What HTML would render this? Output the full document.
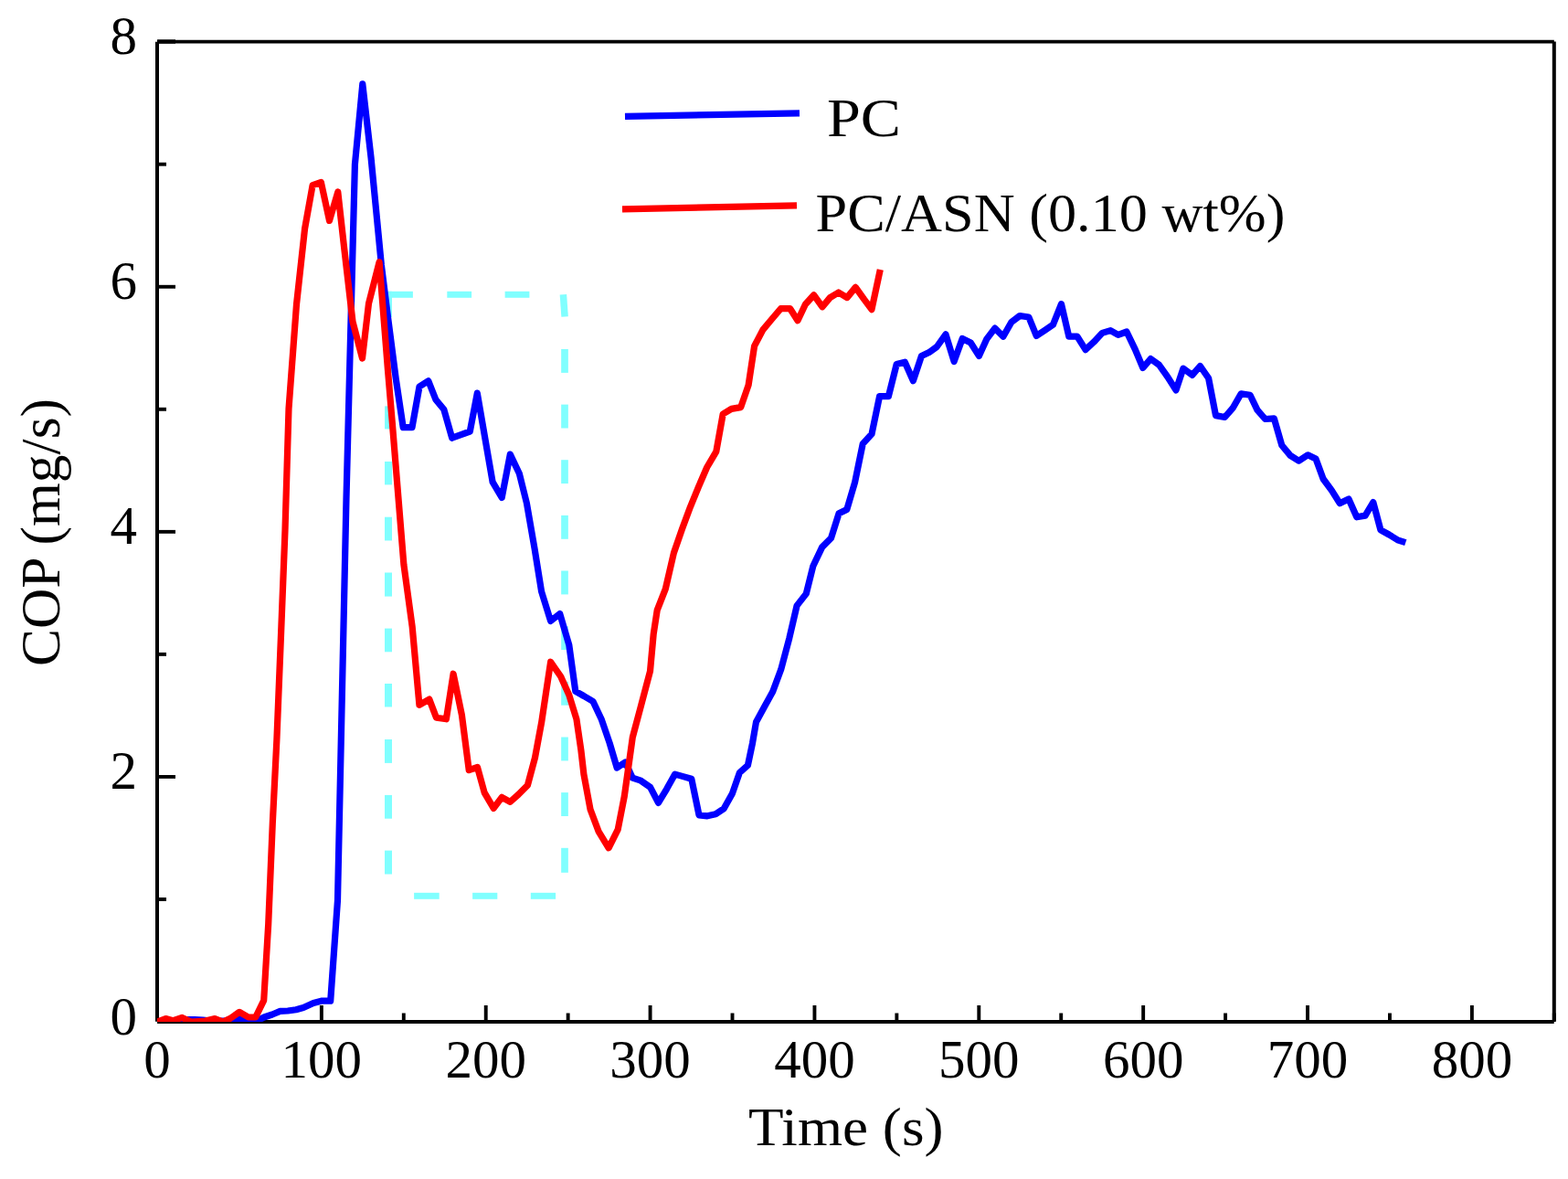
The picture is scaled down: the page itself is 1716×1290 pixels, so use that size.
<!DOCTYPE html>
<html><head><meta charset="utf-8"><title>COP vs Time</title>
<style>
html,body{margin:0;padding:0;background:#fff;}
body{width:1716px;height:1290px;overflow:hidden;}
svg{display:block;}
text{font-family:"Liberation Serif","DejaVu Serif",serif;fill:#000;}
</style></head><body>
<svg width="1716" height="1290" viewBox="0 0 1716 1290">
<defs><clipPath id="pc"><rect x="172" y="45.7" width="1528.8" height="1072.3"/></clipPath></defs>
<rect width="1716" height="1290" fill="#fff"/>
<g stroke="#000" stroke-width="3.9" fill="none">
<line x1="172" y1="45.8" x2="172" y2="1117.8" stroke-width="4"/>
<line x1="172.1" y1="1118" x2="1700.7" y2="1118" stroke-width="3.9"/>
<line x1="1700.8" y1="45.4" x2="1700.8" y2="1117" stroke-width="4"/>
<line x1="172.1" y1="45.7" x2="1700.8" y2="45.7" stroke-width="3.8"/>
<line x1="172.1" y1="45.5" x2="192" y2="45.5" stroke-width="4.4"/>
<line x1="261.93" y1="1118.0" x2="261.93" y2="1108.5"/><line x1="351.86" y1="1118.0" x2="351.86" y2="1100.0"/><line x1="441.79" y1="1118.0" x2="441.79" y2="1108.5"/><line x1="531.72" y1="1118.0" x2="531.72" y2="1100.0"/><line x1="621.65" y1="1118.0" x2="621.65" y2="1108.5"/><line x1="711.58" y1="1118.0" x2="711.58" y2="1100.0"/><line x1="801.51" y1="1118.0" x2="801.51" y2="1108.5"/><line x1="891.44" y1="1118.0" x2="891.44" y2="1100.0"/><line x1="981.37" y1="1118.0" x2="981.37" y2="1108.5"/><line x1="1071.30" y1="1118.0" x2="1071.30" y2="1100.0"/><line x1="1161.23" y1="1118.0" x2="1161.23" y2="1108.5"/><line x1="1251.16" y1="1118.0" x2="1251.16" y2="1100.0"/><line x1="1341.09" y1="1118.0" x2="1341.09" y2="1108.5"/><line x1="1431.02" y1="1118.0" x2="1431.02" y2="1100.0"/><line x1="1520.95" y1="1118.0" x2="1520.95" y2="1108.5"/><line x1="1610.88" y1="1118.0" x2="1610.88" y2="1100.0"/><line x1="1700.81" y1="1118.0" x2="1700.81" y2="1108.5"/><line x1="172.0" y1="983.96" x2="182.0" y2="983.96"/><line x1="172.0" y1="849.92" x2="192.0" y2="849.92"/><line x1="172.0" y1="715.88" x2="182.0" y2="715.88"/><line x1="172.0" y1="581.84" x2="192.0" y2="581.84"/><line x1="172.0" y1="447.80" x2="182.0" y2="447.80"/><line x1="172.0" y1="313.76" x2="192.0" y2="313.76"/><line x1="172.0" y1="179.72" x2="182.0" y2="179.72"/>
</g>
<g fill="none" stroke="#80ffff" stroke-linecap="butt">
<line x1="425.2" y1="322.3" x2="451.9" y2="322.3" stroke-width="7"/><line x1="489.3" y1="322.3" x2="516.1" y2="322.3" stroke-width="7"/><line x1="552.6" y1="322.3" x2="579.4" y2="322.3" stroke-width="7"/><line x1="616.4" y1="322.3" x2="618.1" y2="346.4" stroke-width="7.5"/><line x1="618" y1="382" x2="618" y2="407.9" stroke-width="7.7"/><line x1="618" y1="442.6" x2="618" y2="468.5" stroke-width="7.7"/><line x1="618" y1="503.2" x2="618" y2="529.1" stroke-width="7.7"/><line x1="618" y1="563.9" x2="618" y2="589.8" stroke-width="7.7"/><line x1="618" y1="624.5" x2="618" y2="650.4" stroke-width="7.7"/><line x1="618" y1="685.2" x2="618" y2="711.1" stroke-width="7.7"/><line x1="618" y1="745.8" x2="618" y2="771.7" stroke-width="7.7"/><line x1="618" y1="806.5" x2="618" y2="832.4" stroke-width="7.7"/><line x1="618" y1="867.1" x2="618" y2="893" stroke-width="7.7"/><line x1="618" y1="927.8" x2="618" y2="954.8" stroke-width="7.7"/><line x1="425" y1="318.8" x2="425" y2="347" stroke-width="8"/><line x1="425" y1="383" x2="425" y2="408" stroke-width="8"/><line x1="425" y1="444.4" x2="425" y2="469.4" stroke-width="8"/><line x1="425" y1="505" x2="425" y2="530.4" stroke-width="8"/><line x1="425" y1="565.7" x2="425" y2="591.5" stroke-width="8"/><line x1="425" y1="626.5" x2="425" y2="652.6" stroke-width="8"/><line x1="425" y1="687.6" x2="425" y2="713.3" stroke-width="8"/><line x1="425" y1="748" x2="425" y2="773.5" stroke-width="8"/><line x1="425" y1="809" x2="425" y2="834.9" stroke-width="8"/><line x1="425" y1="869.9" x2="425" y2="895.7" stroke-width="8"/><line x1="425" y1="930.6" x2="425" y2="956.5" stroke-width="8"/><line x1="453.1" y1="980.3" x2="480.7" y2="980.3" stroke-width="7"/><line x1="517.1" y1="980.3" x2="544.3" y2="980.3" stroke-width="7"/><line x1="580.8" y1="980.3" x2="608.1" y2="980.3" stroke-width="7"/>
</g>
<g clip-path="url(#pc)" fill="none" stroke-width="7.2" stroke-linejoin="round" stroke-linecap="butt">
<polyline stroke="#0000ff" points="172,1118.2 181,1117 190,1117 199,1116 204,1115.5 213,1115.5 222,1116 231,1117 244,1117 252,1117 262,1114.5 271,1117.5 280,1117.5 289,1113 298,1110 306.6,1106.4 315,1106 324,1104.7 332,1102.5 343,1097.4 351.6,1095.2 361.7,1095.2 369.5,985 379,545 388.4,180 396.8,91.8 406,172 411.6,229.8 417.4,290.2 424.4,346 433.2,414 441.2,467.6 451,467.6 459,423 468.8,416.8 476.9,437.3 485.8,448 494.7,479.2 504.5,475.6 514.3,472 522.3,430.1 539.1,527.4 549.2,544.5 558.3,497.1 568.4,518.3 576.4,550.5 585,600 592.6,647.3 602.6,679.5 612.7,671.5 622.8,705.7 629.8,756.4 638.9,761.5 649,767.5 658.1,786.7 667.1,812.9 675.2,840.1 684.3,834 692.3,851.2 701.4,854.2 711.5,861.2 720.5,878.4 729.6,863.3 738.7,847.1 747.7,849.6 756.8,852.2 765,891.8 774.1,892.8 783.2,890.8 792.2,884.7 801.3,868.6 809.4,845.4 818.4,837.4 823.5,813.2 827.5,790 836.6,773.3 845.7,756.7 854.7,732.6 863.8,698.3 872.1,662.6 882.3,649.6 889.9,619.2 899.7,598.6 909.5,588.8 918.1,561.7 926.8,557.4 935.5,528.1 944.2,485.7 954,474.9 962.6,433.6 972.4,433.6 981.2,398.5 990.3,396.2 999.4,416.7 1008.5,389.4 1016.8,385.6 1025.2,379.5 1035,365.9 1044.1,395.5 1053.2,370.5 1062.3,375 1071.4,389.4 1079.7,371.2 1088.8,359.1 1097.9,368.2 1107,352.3 1116.1,345.5 1125.9,347 1134.2,367.4 1143.3,361.4 1152.4,355.3 1161.5,332.6 1169.8,368.2 1178.9,368.2 1188,382.6 1197.1,374.2 1206.2,364.4 1215.3,361.6 1223.7,366.3 1233,363 1242.2,382.1 1250.8,402.5 1259.3,392.6 1268.5,399.2 1277.8,412.4 1287,426.9 1294.9,403.2 1304.8,410.4 1313.4,400.5 1322.6,413.7 1330.5,454.6 1340.4,456.5 1349,446.7 1358.2,430.8 1368.1,432.2 1376,448.6 1384.6,458.5 1394.4,457.9 1402.8,487.3 1412.1,498.4 1421.4,504.2 1431.3,497.8 1440,501.9 1448.1,524 1457.4,536.7 1466.2,550.7 1476,546 1484.8,565.8 1494.1,564.1 1502.8,549.5 1510.9,579.8 1520.2,585 1529.5,590.8 1538.3,593.7"/>
<polyline stroke="#ff0000" points="172,1118.2 181.3,1114.6 189.5,1116.7 199.3,1113.4 209,1118 217.2,1117.5 224.6,1117 235.2,1114.6 244.1,1118 251.5,1114.6 262.1,1107.3 271.9,1113 279.7,1113 288.7,1094.6 293.7,1011 298.3,901 302.9,809 307.5,695 312,580 316,447 324.5,333 333.6,250 342.1,202.6 351.4,199.5 360.5,241.4 369.8,210 376.7,271.6 386,352 396.5,392 403.5,332.1 415.1,286.7 419.8,346 424.4,404.2 429.1,460 441.9,617.8 451.2,686 458.9,771.3 469.8,765.1 477.5,785.3 488.4,786.8 496.1,737.2 505.4,782.2 513.2,842.6 522.5,839.5 530.2,867.4 540.2,884.4 549.2,872.3 558.3,877.4 567.4,869.3 577.4,859.2 585.5,829 592.6,790.7 602.6,724.2 613.7,740.3 622.8,760.5 630.9,786.7 635.9,821 638.9,847.1 646,885.4 655,909.6 666.1,927.8 676.2,907.6 683.3,871.3 692.3,806.8 701.4,772.6 711.5,734.3 715.2,693.8 719.2,667.6 728.3,644.4 737.4,605 746.5,578.8 755.5,554.6 764.6,532.4 773.7,511.3 783.8,494.1 791.2,453 800.5,447.4 810.7,445.6 819.1,421.4 825.6,378.6 834.9,360.9 844.2,349.8 854.4,337.7 864.7,337.7 873,350.7 881.4,333 890.7,322.8 900,335.8 908.4,325.6 917.7,320 927,325.6 936.3,314.4 945.6,327.4 954,338.6 963.3,294.9"/>
</g>
<g font-size="59">
<text x="172.00" y="1178.6" text-anchor="middle">0</text><text x="351.86" y="1178.6" text-anchor="middle">100</text><text x="531.72" y="1178.6" text-anchor="middle">200</text><text x="711.58" y="1178.6" text-anchor="middle">300</text><text x="891.44" y="1178.6" text-anchor="middle">400</text><text x="1071.30" y="1178.6" text-anchor="middle">500</text><text x="1251.16" y="1178.6" text-anchor="middle">600</text><text x="1431.02" y="1178.6" text-anchor="middle">700</text><text x="1610.88" y="1178.6" text-anchor="middle">800</text>
<text x="150" y="1131.50" text-anchor="end">0</text><text x="150" y="863.42" text-anchor="end">2</text><text x="150" y="595.34" text-anchor="end">4</text><text x="150" y="327.26" text-anchor="end">6</text><text x="150" y="59.18" text-anchor="end">8</text>
</g>
<g font-size="58.5">
<text x="819" y="1252.9" textLength="213.5" lengthAdjust="spacingAndGlyphs">Time (s)</text>
<text x="905" y="148.6" textLength="81" lengthAdjust="spacingAndGlyphs">PC</text>
<text x="892.5" y="252.7" textLength="514" lengthAdjust="spacingAndGlyphs">PC/ASN (0.10 wt%)</text>
</g>
<text font-size="62" transform="translate(65.4,729) rotate(-90)" textLength="293" lengthAdjust="spacingAndGlyphs">COP (mg/s)</text>
<g stroke-width="7.3" stroke-linecap="butt">
<line x1="684" y1="127.4" x2="875" y2="123.8" stroke="#0000ff"/>
<line x1="681" y1="228.8" x2="872" y2="224.8" stroke="#ff0000"/>
</g>
</svg>
</body></html>
